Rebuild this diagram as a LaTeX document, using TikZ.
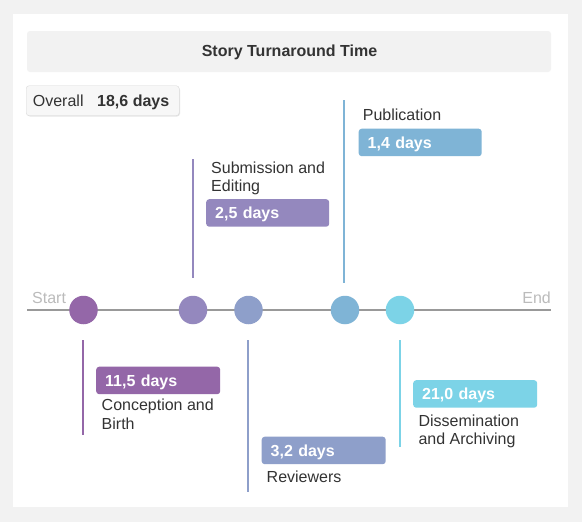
\documentclass[tikz,border=0pt]{standalone}
\usepackage{fontspec}
\setmainfont{Liberation Sans}
\definecolor{bgc}{HTML}{F2F2F2}
\definecolor{txt}{HTML}{333333}
\definecolor{faint}{HTML}{BBBBBB}
\definecolor{axis}{HTML}{999999}
\definecolor{cA}{HTML}{9467A8}
\definecolor{cB}{HTML}{9488BE}
\definecolor{cC}{HTML}{8E9FCA}
\definecolor{cD}{HTML}{7FB4D6}
\definecolor{cE}{HTML}{7CD3E7}
\tikzset{
  lbl/.style={inner sep=0pt, anchor=base west, text=txt, align=left,
    font=\fontsize{16}{18.5}\selectfont},
  daybox/.style={fill=#1, rounded corners=3pt, anchor=north west,
    inner xsep=9pt, inner ysep=0pt, text width=106pt, align=left,
    minimum height=27.5pt, text height=11.5pt, text depth=0pt,
    text=white, font=\fontsize{16}{18.5}\selectfont\bfseries},
  dot/.style={circle, fill=#1, minimum size=28.5pt, inner sep=0pt},
  stem/.style={draw=#1, line width=2pt},
}
\begin{document}
\begin{tikzpicture}[x=1pt,y=-1pt]
\useasboundingbox (0,0) rectangle (582,522);
\fill[bgc] (0,0) rectangle (582,522);
\fill[white] (13,14) rectangle (568,507);
% title
\node[fill=bgc, rounded corners=3pt, minimum width=524pt, minimum height=41pt, inner sep=0pt] (title) at (289,51.5) {};
\node[inner sep=0pt, anchor=base, text=txt, font=\fontsize{16}{18}\selectfont\bfseries] (titletext) at (289.5,56.3) {Story Turnaround Time};
% overall
\fill[black!10, rounded corners=3pt] (27,87) rectangle (180,116.5);
\node[fill=bgc!60!white, draw=black!15, rounded corners=3pt, anchor=north west, minimum width=153pt, minimum height=30pt, inner sep=0pt] (ovbox) at (26,85.5) {};
\node[lbl] (ovlabel) at (32.7,106.7) {Overall};
\node[lbl, font=\fontsize{16}{18.5}\selectfont\bfseries] (ovvalue) at (97,106.7) {18,6 days};
% axis
\coordinate (axL) at (27,310);
\coordinate (axR) at (551,310);
\draw[axis, line width=2pt] (axL) -- (axR);
\node[lbl, text=faint] (start) at (32,303) {Start};
\node[lbl, text=faint, anchor=base east] (end) at (551,303) {End};
% stems
\coordinate (s1a) at (83,340); \coordinate (s1b) at (83,435);
\coordinate (s2a) at (192.5,159); \coordinate (s2b) at (192.5,278);
\coordinate (s3a) at (247.5,340); \coordinate (s3b) at (247.5,492);
\coordinate (s4a) at (344,100); \coordinate (s4b) at (344,283);
\coordinate (s5a) at (400,340); \coordinate (s5b) at (400,447);
\draw[stem=cA] (s1a) -- (s1b);
\draw[stem=cB] (s2a) -- (s2b);
\draw[stem=cC] (s3a) -- (s3b);
\draw[stem=cD] (s4a) -- (s4b);
\draw[stem=cE] (s5a) -- (s5b);
% dots
\node[dot=cA] (d1) at (83.5,310) {};
\node[dot=cB] (d2) at (193,310) {};
\node[dot=cC] (d3) at (248.5,310) {};
\node[dot=cD] (d4) at (345,310) {};
\node[dot=cE] (d5) at (400,310) {};
% day boxes
\node[daybox=cA] (b1) at (96,366.5) {11,5 days};
\node[daybox=cB, text width=105pt] (b2) at (206,199) {2,5 days};
\node[daybox=cC] (b3) at (261.5,436.5) {3,2 days};
\node[daybox=cD, text width=105pt] (b4) at (358.5,128.5) {1,4 days};
\node[daybox=cE] (b5) at (413,380) {21,0 days};
% labels (base anchor = baseline of the last line)
\node[lbl] (l1) at (101.5,429.3) {Conception and\\Birth};
\node[lbl] (l2) at (211,191.7) {Submission and\\Editing};
\node[lbl] (l3) at (266.5,482.7) {Reviewers};
\node[lbl] (l4) at (362.7,120.7) {Publication};
\node[lbl] (l5) at (418.3,444.5) {Dissemination\\and Archiving};
\end{tikzpicture}
\end{document}
